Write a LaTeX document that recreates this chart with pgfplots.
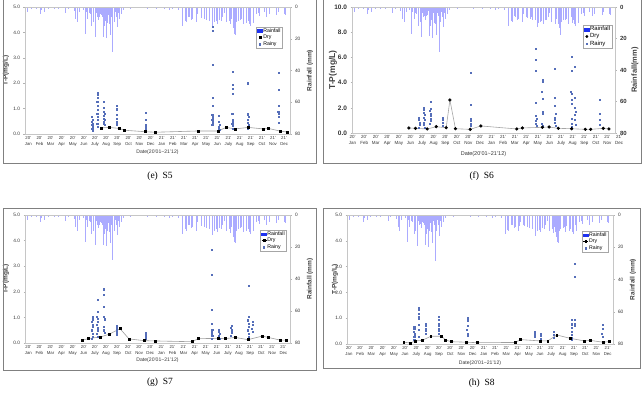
\documentclass[border=0pt]{standalone}
\usepackage{fontspec}
\setmainfont{Liberation Sans}
\newfontfamily\capfont{Liberation Serif}
\usepackage{pgfplots}
\usepackage{pgfplotstable}
\pgfplotsset{compat=1.18}

\definecolor{rainc}{RGB}{150,150,255}
\definecolor{rainleg}{RGB}{30,50,240}
\definecolor{rainy}{RGB}{85,110,185}
\definecolor{framec}{RGB}{128,128,128}
\newcommand{\fs}[2]{\fontsize{#1}{#2}\selectfont}

\pgfplotstableread{
x y
-0.09 3.4
0.30 1.0
0.75 1.2
1.11 4.4
1.20 2.0
1.47 3.4
1.80 1.0
2.30 1.5
2.70 1.0
3.36 4.0
3.60 1.0
4.11 2.5
4.26 7.6
4.41 9.7
4.60 3.0
4.90 2.0
5.10 17.0
5.20 3.0
5.31 7.6
5.45 4.0
5.55 4.4
5.70 11.8
5.85 9.7
5.97 19.0
6.05 3.0
6.10 4.0
6.15 6.5
6.20 5.0
6.24 3.5
6.27 5.5
6.32 8.0
6.38 6.0
6.42 3.0
6.45 4.4
6.50 3.0
6.55 5.0
6.60 2.5
6.66 6.5
6.74 18.6
6.81 12.0
6.90 8.5
6.98 19.6
7.05 4.0
7.11 10.0
7.18 5.0
7.26 10.8
7.34 17.5
7.40 4.0
7.48 6.0
7.58 28.3
7.71 9.7
7.80 3.0
7.86 6.5
7.95 12.8
8.05 4.0
8.16 7.6
8.31 4.4
8.50 2.0
9.20 1.5
10.00 0.8
10.70 1.5
11.50 1.0
12.20 1.0
12.68 2.0
12.98 1.5
13.50 2.0
13.88 12.0
14.09 9.0
14.18 9.7
14.39 6.0
14.48 6.5
14.69 8.0
14.78 7.6
15.08 9.7
15.14 7.0
15.23 4.5
15.53 6.5
15.59 7.0
15.83 7.6
15.98 6.5
16.04 8.0
16.28 8.5
16.52 12.8
16.58 10.0
16.73 9.7
16.88 9.0
17.03 10.8
17.18 8.0
17.33 8.5
17.48 6.5
17.60 4.0
17.78 9.7
18.08 8.5
18.13 11.0
18.23 7.6
18.38 10.8
18.44 13.5
18.53 17.0
18.59 17.5
18.68 9.7
18.83 8.5
19.03 8.0
19.13 7.6
19.28 10.8
19.33 7.0
19.58 6.5
19.63 10.0
19.73 8.5
19.88 10.8
19.93 12.0
20.18 6.5
20.23 10.0
20.48 4.4
20.68 4.0
20.78 5.5
21.23 3.4
21.43 6.0
21.68 4.4
22.33 5.0
22.43 3.4
23.02 4.4
23.08 5.0
}\raintab

% ---------- S5 ----------
\pgfplotstableread{
x y
6.53 0.24
7.28 0.26
8.18 0.22
8.60 0.15
10.49 0.09
11.45 0.07
15.29 0.12
17.09 0.12
17.78 0.26
18.59 0.20
19.78 0.26
21.13 0.20
21.58 0.22
22.69 0.11
23.29 0.08
}\dryE
\pgfplotstableread{
x y
5.72 0.68
5.76 0.57
5.72 0.49
5.78 0.42
5.74 0.35
5.78 0.29
5.74 0.20
5.76 0.13
6.21 1.63
6.21 1.55
6.21 1.44
6.19 1.27
6.23 1.10
6.21 0.94
6.19 0.81
6.23 0.68
6.21 0.55
6.19 0.39
6.23 0.29
6.81 1.27
6.81 1.03
6.79 0.88
6.83 0.79
6.81 0.71
6.79 0.62
6.83 0.55
6.81 0.49
6.79 0.42
6.83 0.35
7.95 1.10
7.93 1.01
7.97 0.94
7.95 0.75
7.93 0.62
7.97 0.49
7.95 0.42
7.93 0.35
10.56 0.85
10.56 0.58
10.54 0.35
10.58 0.29
10.56 0.22
10.56 0.16
16.55 4.24
16.55 4.07
16.55 2.74
16.55 1.43
16.55 1.12
16.53 0.77
16.57 0.68
16.55 0.62
16.53 0.55
16.57 0.49
16.55 0.42
16.53 0.35
17.15 0.71
17.13 0.49
17.17 0.35
17.15 0.29
17.13 0.22
17.17 0.16
18.35 2.45
18.35 1.93
18.35 1.80
18.35 1.57
18.33 0.81
18.37 0.55
18.35 0.49
18.33 0.42
18.37 0.32
18.35 0.22
19.76 2.00
19.76 0.81
19.74 0.75
19.78 0.68
19.76 0.58
19.74 0.45
19.78 0.35
19.76 0.22
22.49 2.41
22.49 1.76
22.49 1.10
22.47 0.88
22.51 0.81
22.49 0.68
22.49 0.45
}\rainyE

% ---------- S6 ----------
\pgfplotstableread{
x y
4.86 0.40
5.43 0.37
6.44 0.32
7.22 0.50
8.08 0.42
8.40 2.62
8.88 0.34
10.15 0.29
11.07 0.56
14.17 0.32
14.66 0.40
16.38 0.45
16.96 0.48
17.76 0.37
18.91 0.34
20.09 0.29
20.55 0.29
21.64 0.37
22.13 0.32
}\dryF
\pgfplotstableread{
x y
5.72 1.22
5.72 1.03
5.76 0.82
5.76 0.63
5.72 0.45
6.18 2.01
6.18 1.83
6.16 1.61
6.20 1.43
6.18 1.24
6.20 1.03
6.16 0.82
6.18 0.63
6.20 0.45
6.70 2.49
6.70 1.96
6.68 1.74
6.72 1.56
6.70 1.35
6.70 1.16
6.72 0.98
6.68 0.77
7.79 1.24
7.79 1.03
7.81 0.82
7.77 0.61
10.20 4.81
10.20 2.22
10.18 1.17
10.22 0.98
10.20 0.77
10.20 0.56
15.84 6.72
15.84 5.85
15.82 4.95
15.84 2.41
15.84 1.35
15.86 1.16
15.82 0.98
15.84 0.77
15.86 0.56
16.38 4.26
16.38 4.10
16.36 3.28
16.38 2.75
16.38 1.69
16.40 1.51
16.36 0.77
16.38 0.56
17.47 5.13
17.47 2.83
17.45 2.14
17.49 1.51
17.47 1.24
17.47 1.03
17.45 0.82
17.49 0.56
18.91 6.06
18.91 4.92
18.86 3.28
18.93 3.15
18.91 2.67
18.95 2.35
18.91 1.11
18.93 0.77
18.89 0.50
19.20 5.26
19.20 2.83
19.18 2.00
19.22 1.69
19.20 1.43
19.18 1.03
19.22 0.63
21.35 2.62
21.35 1.51
21.33 1.03
21.37 0.63
}\rainyF

% ---------- S7 ----------
\pgfplotstableread{
x y
4.87 0.11
5.41 0.17
6.53 0.24
7.28 0.34
8.27 0.56
9.08 0.16
10.49 0.09
11.49 0.08
14.79 0.05
15.30 0.17
17.11 0.18
17.80 0.17
18.64 0.22
19.81 0.13
21.10 0.27
21.61 0.22
22.76 0.11
23.30 0.11
}\dryG
\pgfplotstableread{
x y
5.77 1.02
5.77 0.93
5.75 0.83
5.79 0.72
5.77 0.63
5.75 0.50
5.79 0.37
5.77 0.24
5.75 0.17
6.22 1.70
6.22 1.22
6.20 1.02
6.24 0.96
6.22 0.83
6.20 0.70
6.24 0.59
6.22 0.50
6.20 0.37
6.24 0.24
6.83 2.10
6.83 1.87
6.83 1.41
6.81 1.02
6.85 0.93
6.83 0.63
6.81 0.50
6.85 0.41
7.97 0.67
7.95 0.59
7.99 0.50
7.97 0.41
7.95 0.33
10.58 0.40
10.58 0.33
10.56 0.25
10.60 0.17
16.56 3.66
16.56 2.68
16.56 1.29
16.54 0.74
16.58 0.52
16.56 0.44
16.54 0.37
16.58 0.30
16.56 0.17
17.20 0.53
17.18 0.46
17.22 0.37
17.20 0.30
17.18 0.24
17.22 0.17
18.31 0.67
18.29 0.59
18.33 0.50
18.31 0.41
18.29 0.30
19.84 2.24
19.84 1.02
19.82 0.89
19.86 0.76
19.84 0.63
19.82 0.50
19.86 0.37
19.84 0.24
20.20 0.83
20.20 0.70
20.18 0.57
20.22 0.44
}\rainyG

% ---------- S8 ----------
\pgfplotstableread{
x y
4.78 0.07
5.37 0.04
5.80 0.12
6.38 0.14
7.14 0.30
8.08 0.30
8.42 0.16
8.89 0.09
10.26 0.07
11.19 0.05
14.48 0.06
14.98 0.17
16.67 0.12
17.34 0.12
18.13 0.35
19.29 0.22
20.54 0.12
21.04 0.14
22.15 0.07
22.70 0.09
}\dryH
\pgfplotstableread{
x y
5.69 0.67
5.69 0.58
5.67 0.48
5.71 0.38
5.69 0.29
5.69 0.16
6.09 1.41
6.09 1.32
6.07 1.19
6.11 1.06
6.09 0.97
6.09 0.74
6.11 0.54
6.09 0.28
6.71 0.80
6.69 0.71
6.73 0.61
6.71 0.50
6.69 0.41
7.84 1.06
7.84 0.93
7.82 0.80
7.86 0.71
7.84 0.61
7.82 0.50
7.86 0.41
10.32 1.00
10.32 0.89
10.34 0.71
10.30 0.54
10.32 0.41
10.32 0.32
16.17 0.48
16.17 0.38
16.17 0.29
16.75 0.39
16.75 0.31
16.75 0.22
17.83 0.48
17.83 0.35
17.83 0.25
19.44 0.93
19.44 0.80
19.42 0.74
19.46 0.63
19.44 0.48
19.42 0.35
19.46 0.25
19.44 0.16
19.67 3.13
19.67 2.61
19.67 0.93
19.69 0.80
19.65 0.71
22.10 0.76
22.10 0.58
22.08 0.41
22.12 0.28
}\rainyH

\pgfplotsset{
  monthlabels/.style={xticklabels={{20'\\Jan},{20'\\Feb},{20'\\Mar},{20'\\Apr},{20'\\May},{20'\\Jun},{20'\\July},{20'\\Aug},{20'\\Sep},{20'\\Oct},{20'\\Nov},{20'\\Dec},{21'\\Jan},{21'\\Feb},{21'\\Mar},{21'\\Apr},{21'\\May},{21'\\Jun},{21'\\July},{21'\\Aug},{21'\\Sep},{21'\\Oct},{21'\\Nov},{21'\\Dec}}},
  rainax/.style={scale only axis, anchor=south west, xmin=-0.3, xmax=23.53, ymin=0, ymax=80, y dir=reverse,
    axis x line=none, axis y line*=right, ytick={0,20,40,60,80},
    tick align=outside, major tick length=1.5pt, tick style={gray!60, line width=0.4pt},
    axis line style={gray!45, line width=0.5pt},
    /pgf/number format/assume math mode=true,
    yticklabel style={font=\fs{4.8}{5}, text=black!80},
    ylabel style={font=\bfseries\fs{6.5}{7}, text=black!75, at={(axis description cs:1.075,0.5)}, anchor=center}},
  tpax/.style={scale only axis, anchor=south west, ymin=0, xtick pos=bottom, ytick pos=left,
    tick align=outside, major tick length=1.5pt, tick style={gray!60, line width=0.4pt},
    xtick style={draw=none}, axis line style={gray!45, line width=0.5pt},
    /pgf/number format/assume math mode=true,
    /pgf/number format/fixed, /pgf/number format/fixed zerofill, /pgf/number format/precision=1,
    yticklabel style={font=\fs{4.8}{5}, text=black!80},
    monthlabels,
    xticklabel style={align=center, font=\fs{4.3}{5.4}, text=black!80, inner sep=1pt},
    xlabel={Date(20'01\textasciitilde 21'12)},
    xlabel style={font=\fs{5.1}{6}, text=black!80, anchor=center},
    ylabel={T-P(mg/L)},
    ylabel style={font=\bfseries\fs{6.5}{7}, text=black!75, anchor=center},
    legend cell align=left,
    legend image code/.code={\draw[mark repeat=2,mark phase=2,##1] plot coordinates {(0pt,0pt)(2.5pt,0pt)(5pt,0pt)};},
    legend style={draw=gray!70, fill=white, line width=0.4pt, inner xsep=1pt, inner ysep=0.6pt,
      row sep=0.2pt, nodes={inner sep=0.6pt}, anchor=north west, font=\fs{5.2}{5.6}}},
  rainplot/.style={ycomb, draw=rainc, line width=0.45pt, opacity=0.8},
  rainyplot/.style={only marks, mark=square*, mark size=0.55pt, rainy, forget plot},
}

\begin{document}
\begin{tikzpicture}
\path[use as bounding box] (0pt,0pt) rectangle (643pt,392pt);

% ===== (e) S5 =====
\begin{axis}[rainax, at={(25pt,258pt)}, width=265pt, height=127pt, ylabel={Rainfall (mm)}]
\addplot[rainplot] table {\raintab};
\end{axis}
\begin{axis}[tpax, at={(25pt,258pt)}, width=265pt, height=127pt,
  xmin=-0.3, xmax=23.53, ymax=5, ytick={0,1,...,5}, xtick={0,...,23},
  xlabel style={at={(axis description cs:0.5,-0.142)}},
  ylabel style={at={(axis description cs:-0.072,0.5)}},
  legend style={at={(axis description cs:0.872,0.843)}}]
\addlegendimage{legend image code/.code={\fill[rainleg] (0pt,-1.3pt) rectangle (5pt,1.3pt);}}
\addlegendentry{Rainfall}
\addlegendimage{only marks, mark=square*, mark size=1pt, black}
\addlegendentry{Dry}
\addlegendimage{only marks, mark=square*, mark size=0.6pt, rainy}
\addlegendentry{Rainy}
\addplot[rainyplot] table {\rainyE};
\addplot[gray!75, line width=0.6pt, mark=square*, mark size=0.95pt, mark options={black}, forget plot] table {\dryE};
\end{axis}

% ===== (f) S6 =====
\begin{axis}[rainax, at={(352pt,259pt)}, width=263pt, height=126pt, ylabel={Rainfall(mm)},
  yticklabel style={font=\bfseries\fs{6}{6.5}},
  ylabel style={font=\bfseries\fs{7.5}{8}, at={(axis description cs:1.076,0.5)}}]
\addplot[rainplot] table {\raintab};
\end{axis}
\begin{axis}[tpax, at={(352pt,259pt)}, width=263pt, height=126pt, clip=false,
  xmin=-0.05, xmax=22.65, ymax=10, ytick={0,2,...,10}, xtick={0,...,23},
  yticklabel style={font=\bfseries\fs{6.5}{7}},
  xticklabel style={font=\fs{4.5}{5.6}},
  xlabel style={font=\fs{5.5}{6}, at={(axis description cs:0.5,-0.17)}},
  ylabel style={font=\bfseries\fs{8.5}{9}, at={(axis description cs:-0.072,0.5)}},
  legend style={font=\fs{6}{6.5}, at={(axis description cs:0.878,0.857)}}]
\addlegendimage{legend image code/.code={\fill[rainleg] (0pt,-1.5pt) rectangle (5pt,1.5pt);}}
\addlegendentry{Rainfall}
\addlegendimage{only marks, mark=*, mark size=1.2pt, black}
\addlegendentry{Dry}
\addlegendimage{only marks, mark=square*, mark size=0.5pt, rainy}
\addlegendentry{Rainy}
\addplot[rainyplot, mark size=0.5pt] table {\rainyF};
\addplot[gray!70, line width=0.6pt, mark=*, mark size=1.3pt, mark options={black}, forget plot] table {\dryF};
\node[anchor=north, align=center, font=\fs{4.5}{5.6}, text=black!80, inner sep=1pt, yshift=-1.5pt] at (axis cs:23,0) {21'\\Dec};
\end{axis}

% ===== (g) S7 =====
\begin{axis}[rainax, at={(25pt,49pt)}, width=265pt, height=128pt, ylabel={Rainfall (mm)}]
\addplot[rainplot] table {\raintab};
\end{axis}
\begin{axis}[tpax, at={(25pt,49pt)}, width=265pt, height=128pt,
  xmin=-0.3, xmax=23.6, ymax=5, ytick={0,1,...,5}, xtick={0,...,23},
  xlabel style={at={(axis description cs:0.5,-0.133)}},
  ylabel style={at={(axis description cs:-0.072,0.5)}},
  legend style={at={(axis description cs:0.887,0.883)}}]
\addlegendimage{legend image code/.code={\fill[rainleg] (0pt,-1.3pt) rectangle (5pt,1.3pt);}}
\addlegendentry{Rainfall}
\addlegendimage{black, line width=0.5pt, mark=square*, mark size=0.9pt}
\addlegendentry{Dry}
\addlegendimage{only marks, mark=square*, mark size=0.6pt, rainy}
\addlegendentry{Rainy}
\addplot[rainyplot] table {\rainyG};
\addplot[gray!75, line width=0.6pt, mark=square*, mark size=0.95pt, mark options={black}, forget plot] table {\dryG};
\end{axis}

% ===== (h) S8 =====
\begin{axis}[rainax, at={(347pt,48pt)}, width=266pt, height=129pt, ylabel={Rainfall (mm)},
  ylabel style={at={(axis description cs:1.075,0.5)}}]
\addplot[rainplot] table {\raintab};
\end{axis}
\begin{axis}[tpax, at={(347pt,48pt)}, width=266pt, height=129pt,
  xmin=-0.17, xmax=23.03, ymax=5, ytick={0,1,...,5},
  xtick={0,0.98,1.96,2.94,3.92,4.90,5.88,6.87,7.85,8.83,9.81,10.79,11.77,12.75,13.73,14.71,15.69,16.67,17.65,18.64,19.62,20.60,21.58,22.56},
  xlabel style={at={(axis description cs:0.5,-0.145)}},
  ylabel style={at={(axis description cs:-0.045,0.5)}},
  legend style={at={(axis description cs:0.883,0.876)}}]
\addlegendimage{legend image code/.code={\fill[rainleg] (0pt,-1.3pt) rectangle (5pt,1.3pt);}}
\addlegendentry{Rainfall}
\addlegendimage{black, line width=0.5pt, mark=square*, mark size=0.9pt}
\addlegendentry{Dry}
\addlegendimage{only marks, mark=square*, mark size=0.6pt, rainy}
\addlegendentry{Rainy}
\addplot[rainyplot] table {\rainyH};
\addplot[gray!75, line width=0.6pt, mark=square*, mark size=0.95pt, mark options={black}, forget plot] table {\dryH};
\end{axis}

% frames
\draw[framec, line width=0.8pt] (3pt,392pt) -- (3pt,229pt) -- (316pt,229pt) -- (316pt,392pt);
\draw[framec, line width=0.8pt] (323.3pt,392pt) -- (323.3pt,229pt) -- (641pt,229pt) -- (641pt,392pt);
\draw[framec, line width=0.8pt] (3pt,183.7pt) rectangle (316pt,22pt);
\draw[framec, line width=0.8pt] (323.3pt,184pt) rectangle (640pt,23.7pt);

% captions
\node[font=\capfont\fs{9.5}{10}] at (160pt,216pt) {(e)\ \ S5};
\node[font=\capfont\fs{9.5}{10}] at (481.7pt,216pt) {(f)\ \ S6};
\node[font=\capfont\fs{9.5}{10}] at (160pt,9.3pt) {(g)\ \ S7};
\node[font=\capfont\fs{9.5}{10}] at (481.7pt,9pt) {(h)\ \ S8};
\end{tikzpicture}
\end{document}
